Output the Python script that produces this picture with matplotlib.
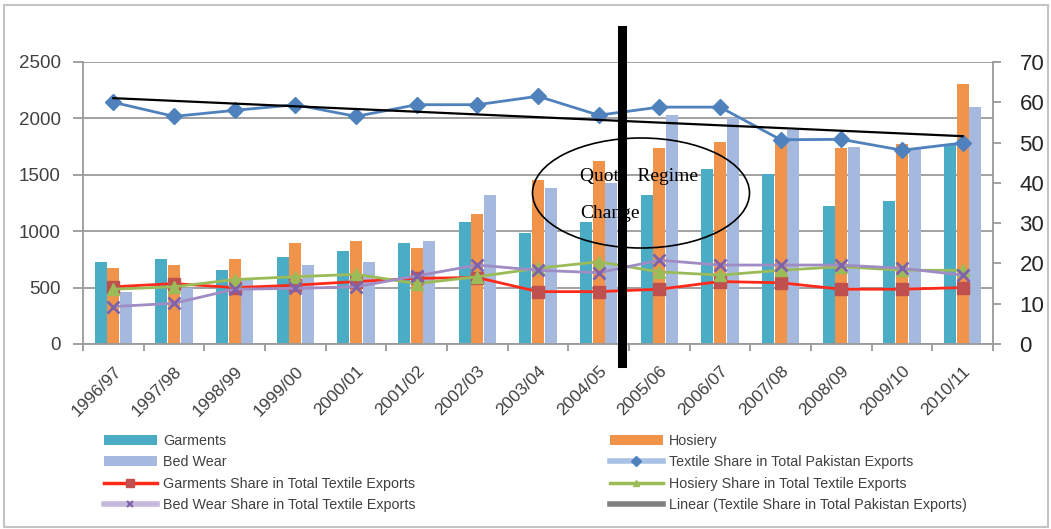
import numpy as np
import matplotlib
matplotlib.use("Agg")
import matplotlib.pyplot as plt
from matplotlib.patches import Ellipse, Rectangle
from matplotlib.lines import Line2D

plt.rcParams['font.family'] = ['Liberation Sans', 'DejaVu Sans']

years = ["1996/97", "1997/98", "1998/99", "1999/00", "2000/01", "2001/02", "2002/03",
         "2003/04", "2004/05", "2005/06", "2006/07", "2007/08", "2008/09", "2009/10", "2010/11"]

# export values (left axis)
garments = [730, 750, 655, 773, 823, 891, 1083, 980, 1083, 1319, 1555, 1511, 1222, 1269, 1771]
hosiery = [676, 699, 750, 891, 915, 847, 1151, 1458, 1623, 1741, 1791, 1812, 1741, 1770, 2308]
bed_wear = [457, 500, 580, 699, 729, 912, 1319, 1387, 1430, 2027, 2007, 1894, 1747, 1732, 2101]

# shares in % (right axis)
textile_share = [60.0, 56.5, 58.0, 59.4, 56.5, 59.4, 59.4, 61.5, 56.8, 58.8, 58.8, 50.7, 50.8, 48.1, 49.9]
garments_share = [14.2, 15.0, 14.0, 14.6, 15.5, 16.3, 16.5, 13.0, 13.0, 13.6, 15.5, 15.2, 13.6, 13.6, 14.0]
hosiery_share = [13.6, 14.2, 16.0, 16.7, 17.3, 15.0, 16.7, 18.8, 20.4, 17.9, 17.1, 18.3, 19.2, 18.3, 18.3]
bedwear_share = [9.3, 10.1, 13.6, 13.8, 14.2, 16.9, 19.6, 18.3, 17.7, 20.8, 19.6, 19.6, 19.6, 18.8, 17.1]

W, H = 1051, 529
fig = plt.figure(figsize=(W / 100, H / 100), dpi=100)
ax = fig.add_axes([83 / W, 1 - 344 / H, (993 - 83) / W, (344 - 62) / H])

x = np.arange(len(years))
bw = 0.2
b1 = ax.bar(x - 0.21, garments, bw, color='#4BACC6', label='Garments', zorder=2)
b2 = ax.bar(x, hosiery, bw, color='#F0944B', label='Hosiery', zorder=2)
b3 = ax.bar(x + 0.21, bed_wear, bw, color='#A5B9DE', label='Bed Wear', zorder=2)

ax.set_xlim(-0.5, len(years) - 0.5)
ax.set_ylim(0, 2500)
ax.set_yticks(range(0, 2501, 500))
ax.grid(axis='y', color='#9a9a9a', lw=1.3, zorder=0)
ax.set_axisbelow(True)
for s in ['top', 'right']:
    ax.spines[s].set_visible(False)
for s in ['left', 'bottom']:
    ax.spines[s].set_color('#9a9a9a')
    ax.spines[s].set_linewidth(1.3)

ax.set_xticks(x)
ax.set_xticklabels(years, rotation=45, ha='right', rotation_mode='anchor', fontsize=12.5, color='#404040')
ax.tick_params(axis='x', length=0, pad=14)
ax.set_xticks(np.arange(-0.5, len(years), 1), minor=True)
ax.tick_params(axis='x', which='minor', length=5, color='#9a9a9a', width=1.3)
ax.tick_params(axis='y', length=7, color='#9a9a9a', width=1.3, labelsize=13.5, labelcolor='#404040', pad=9)

ax2 = ax.twinx()
ax2.set_ylim(0, 70)
ax2.set_yticks(range(0, 71, 10))
for s in ['top', 'left', 'bottom']:
    ax2.spines[s].set_visible(False)
ax2.spines['right'].set_color('#9a9a9a')
ax2.spines['right'].set_linewidth(1.3)
ax2.tick_params(axis='y', length=6, color='#9a9a9a', width=1.3, labelsize=16, labelcolor='#262626', pad=13)

l1, = ax2.plot(x, textile_share, color='#4F81BD', lw=2, marker='D', ms=8, label='Textile Share in Total Pakistan Exports')
l2, = ax2.plot(x, garments_share, color='#FF2A1A', lw=2, marker='s', ms=9, mfc='#C0504D', mec='#C0504D',
               label='Garments Share in Total Textile Exports')
l3, = ax2.plot(x, hosiery_share, color='#9BBB59', lw=2, marker='^', ms=9, label='Hosiery Share in Total Textile Exports')
l4, = ax2.plot(x, bedwear_share, color='#A08CC4', lw=2, marker='x', ms=9, mew=2, mec='#7F62A8',
               label='Bed Wear Share in Total Textile Exports')
coef = np.polyfit(x, textile_share, 1)
l5, = ax2.plot(x, np.polyval(coef, x), color='black', lw=1.6, label='Linear (Textile Share in Total Pakistan Exports)')

# legend handles drawn the way the spreadsheet legend shows them
h1 = Line2D([], [], color='#A9C1E3', lw=4, marker='D', ms=5, mfc='#4F81BD', mec='#4F81BD')
h2 = Line2D([], [], color='#FF2A1A', lw=2.5, marker='s', ms=6, mfc='#C0504D', mec='#C0504D')
h3 = Line2D([], [], color='#9BBB59', lw=2.5, marker='^', ms=5)
h4 = Line2D([], [], color='#C4B8DC', lw=4, marker='x', ms=5, mew=1.5, mec='#7F62A8')
h5 = Line2D([], [], color='#808080', lw=4)

leg_kw = dict(frameon=False, loc='upper left', borderaxespad=0, borderpad=0, fontsize=10.3,
              handlelength=3.7, handletextpad=0.45, labelspacing=0.52, labelcolor='#404040')
fig.legend([b1, b3, h2, h4], [h.get_label() for h in [b1, b3, l2, l4]],
           bbox_to_anchor=(104 / W, 1 - 434 / H), **leg_kw)
fig.legend([b2, h1, h3, h5], [h.get_label() for h in [b2, l1, l3, l5]],
           bbox_to_anchor=(610 / W, 1 - 434 / H), **leg_kw)

# annotation: ellipse, text and thick vertical bar
fig.patches.append(Ellipse((641 / W, 1 - 193 / H), 217 / W, 110 / H, transform=fig.transFigure,
                           fill=False, edgecolor='black', lw=1.2, zorder=5))
fig.text(580 / W, 1 - 176 / H, 'Quota  Regime', family='Liberation Serif', fontsize=14, va='center', zorder=6)
fig.text(580 / W, 1 - 213 / H, 'Change', family='Liberation Serif', fontsize=14, va='center', zorder=6)
fig.lines.append(Line2D([622 / W, 622 / W], [1 - 30 / H, 1 - 363 / H], transform=fig.transFigure,
                        color='black', lw=6.5, zorder=10))

# outer frame
fig.patches.append(Rectangle((4 / W, 2 / H), 1044 / W, 522 / H, transform=fig.transFigure,
                             fill=False, edgecolor='#c4c4c4', lw=1.5))

fig.savefig('out.png', dpi=100)
